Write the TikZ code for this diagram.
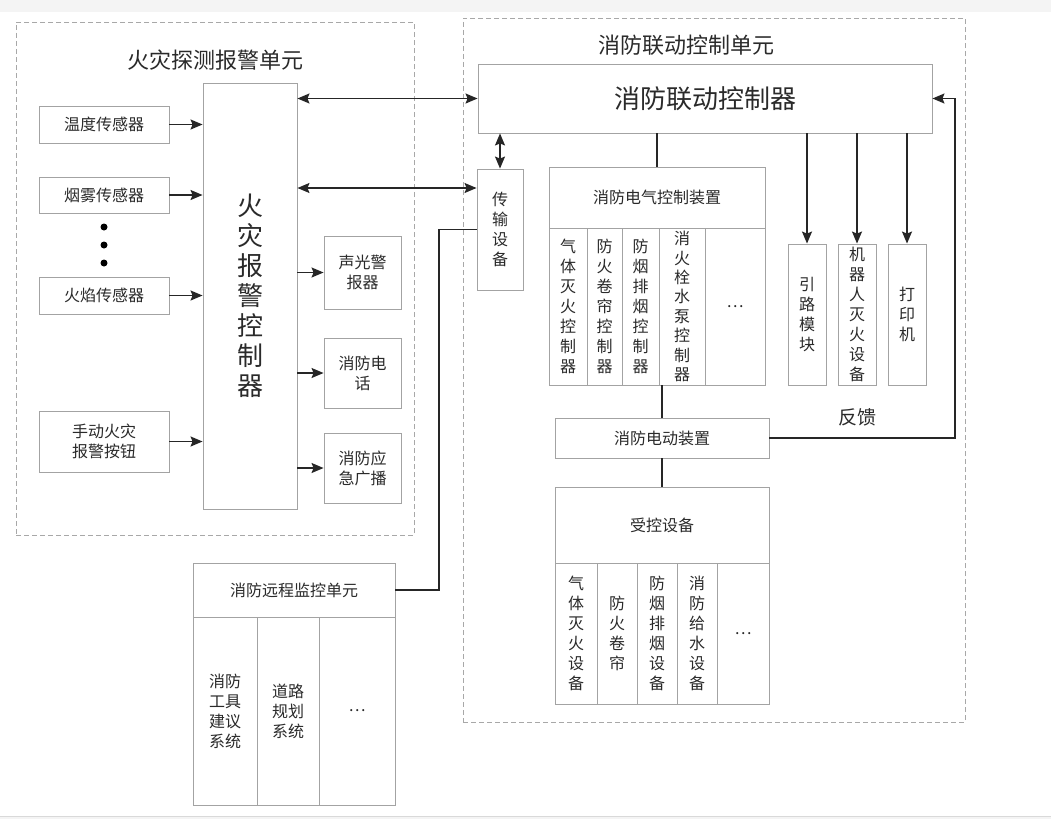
\documentclass[tikz,border=0pt]{standalone}
\usepackage{fontspec}
\setmainfont{Noto Sans CJK SC}
\usetikzlibrary{arrows.meta}
\definecolor{bordergray}{HTML}{A3A3A3}
\definecolor{dashgray}{HTML}{A8A8A8}
\definecolor{txt}{HTML}{2A2A2A}
\definecolor{band}{HTML}{F4F4F4}
\begin{document}
\begin{tikzpicture}[x=1pt,y=-1pt,
  box/.style={draw=bordergray, line width=0.9pt, inner sep=0pt, align=center, text=txt,
    font=\fontsize{16}{20}\selectfont},
  dbox/.style={draw=dashgray, line width=0.8pt, dash pattern=on 5pt off 3pt, inner sep=0pt},
  ttl/.style={text=txt, inner sep=0pt, font=\fontsize{22}{26}\selectfont},
  conn/.style={line width=1.5pt, draw=black!85},
  arr/.style={conn, -{Stealth[length=12pt,width=10pt,inset=2pt]}},
  darr/.style={conn, {Stealth[length=12pt,width=10pt,inset=2pt]}-{Stealth[length=12pt,width=10pt,inset=2pt]}}
]
\useasboundingbox (0,0) rectangle (1051,819);
\fill[white] (0,0) rectangle (1051,819);
\fill[band] (0,0) rectangle (1051,12);
\fill[band] (0,816) rectangle (1051,819);
\draw[gray!30, line width=0.6pt] (0,816) -- (1051,816);

% dashed units
\node[dbox, minimum width=398pt, minimum height=513pt] (fdu) at (215,278.5) {};
\node[dbox, minimum width=502pt, minimum height=704pt] (flu) at (714,370) {};
\node[ttl] (t1) at (215,60) {火灾探测报警单元};
\node[ttl] (t2) at (686,45) {消防联动控制单元};

% fire alarm controller
\node[box, minimum width=94pt, minimum height=426pt, font=\fontsize{26}{30}\selectfont] (fc) at (250,296)
  {火\\灾\\报\\警\\控\\制\\器};

% sensors
\node[box, minimum width=130pt, minimum height=37pt] (s1) at (104,124.5) {温度传感器};
\node[box, minimum width=130pt, minimum height=36pt] (s2) at (104,195) {烟雾传感器};
\node[box, minimum width=130pt, minimum height=37pt] (s3) at (104,295.5) {火焰传感器};
\node[box, minimum width=130pt, minimum height=61pt] (s4) at (104,441.5) {手动火灾\\报警按钮};
\fill[black] (104,227) circle (3.5pt);
\fill[black] (104,245) circle (3.5pt);
\fill[black] (104,263) circle (3.5pt);
\foreach \s in {s1,s2,s3,s4} \draw[arr] (\s.east) -- (\s.east -| fc.west);

% outputs
\node[box, minimum width=77pt, minimum height=73pt] (o1) at (362.5,272.5) {声光警\\报器};
\node[box, minimum width=77pt, minimum height=70pt] (o2) at (362.5,373) {消防电\\话};
\node[box, minimum width=77pt, minimum height=70pt] (o3) at (362.5,468) {消防应\\急广播};
\foreach \o in {o1,o2,o3} \draw[arr] (fc.east |- \o.west) -- (\o.west);

% linkage controller
\node[box, minimum width=454pt, minimum height=69pt, font=\fontsize{26}{30}\selectfont] (lc) at (705,98.5) {消防联动控制器};
\node[box, minimum width=46pt, minimum height=121pt] (tr) at (500,229.5) {传\\输\\设\\备};
\draw[darr] (fc.east |- lc.west) -- (lc.west);
\draw[darr] (tr.north |- lc.south) -- (tr.north);
\coordinate (trin) at ([yshift=41.5pt]tr.west);
\draw[darr] (fc.east |- trin) -- (trin);

% electrical control device
\node[box, minimum width=216pt, minimum height=61pt] (ec) at (657,197.5) {消防电气控制装置};
\node[box, minimum width=38pt, minimum height=157pt] (ec1) at (568,306.5) {气\\体\\灭\\火\\控\\制\\器};
\node[box, minimum width=35pt, minimum height=157pt] (ec2) at (604.5,306.5) {防\\火\\卷\\帘\\控\\制\\器};
\node[box, minimum width=37pt, minimum height=157pt] (ec3) at (640.5,306.5) {防\\烟\\排\\烟\\控\\制\\器};
\node[box, minimum width=46pt, minimum height=157pt, font=\fontsize{16}{19.4}\selectfont] (ec4) at (682,306.5) {消\\火\\栓\\水\\泵\\控\\制\\器};
\node[box, minimum width=60pt, minimum height=157pt] (ec5) at (735,306.5) {…};
\draw[conn] (ec.north |- lc.south) -- (ec.north);

% electric actuator
\node[box, minimum width=214pt, minimum height=40pt] (ed) at (662,438) {消防电动装置};
\draw[conn] (ed.north |- ec4.south) -- (ed.north);

% controlled equipment
\node[box, minimum width=214pt, minimum height=76pt] (cd) at (662,525) {受控设备};
\draw[conn] (ed.south) -- (cd.north);
\node[box, minimum width=42pt, minimum height=141pt] (cd1) at (576,633.5) {气\\体\\灭\\火\\设\\备};
\node[box, minimum width=40pt, minimum height=141pt] (cd2) at (617,633.5) {防\\火\\卷\\帘};
\node[box, minimum width=40pt, minimum height=141pt] (cd3) at (657,633.5) {防\\烟\\排\\烟\\设\\备};
\node[box, minimum width=40pt, minimum height=141pt] (cd4) at (697,633.5) {消\\防\\给\\水\\设\\备};
\node[box, minimum width=52pt, minimum height=141pt] (cd5) at (743,633.5) {…};

% right column devices
\node[box, minimum width=38pt, minimum height=141pt] (rb1) at (807,314.5) {引\\路\\模\\块};
\node[box, minimum width=38pt, minimum height=141pt] (rb2) at (857,314.5) {机\\器\\人\\灭\\火\\设\\备};
\node[box, minimum width=38pt, minimum height=141pt] (rb3) at (907,314.5) {打\\印\\机};
\foreach \r in {rb1,rb2,rb3} \draw[arr] (\r.north |- lc.south) -- (\r.north);

% feedback
\coordinate (fb) at (955,438);
\draw[arr] (ed.east) -- (fb) |- (lc.east);
\node[text=txt, inner sep=0pt, font=\fontsize{19}{22}\selectfont] (fbl) at (857,417) {反馈};

% remote monitoring unit
\node[box, minimum width=202pt, minimum height=54pt] (rm) at (294,590) {消防远程监控单元};
\node[box, minimum width=64pt, minimum height=188pt] (rm1) at (225,711) {消防\\工具\\建议\\系统};
\node[box, minimum width=62pt, minimum height=188pt] (rm2) at (288,711) {道路\\规划\\系统};
\node[box, minimum width=76pt, minimum height=188pt] (rm3) at (357,711) {…};
\coordinate (bend) at (439,0);
\draw[conn] (tr.west) -| (bend |- rm.east) -- (rm.east);
\end{tikzpicture}
\end{document}
